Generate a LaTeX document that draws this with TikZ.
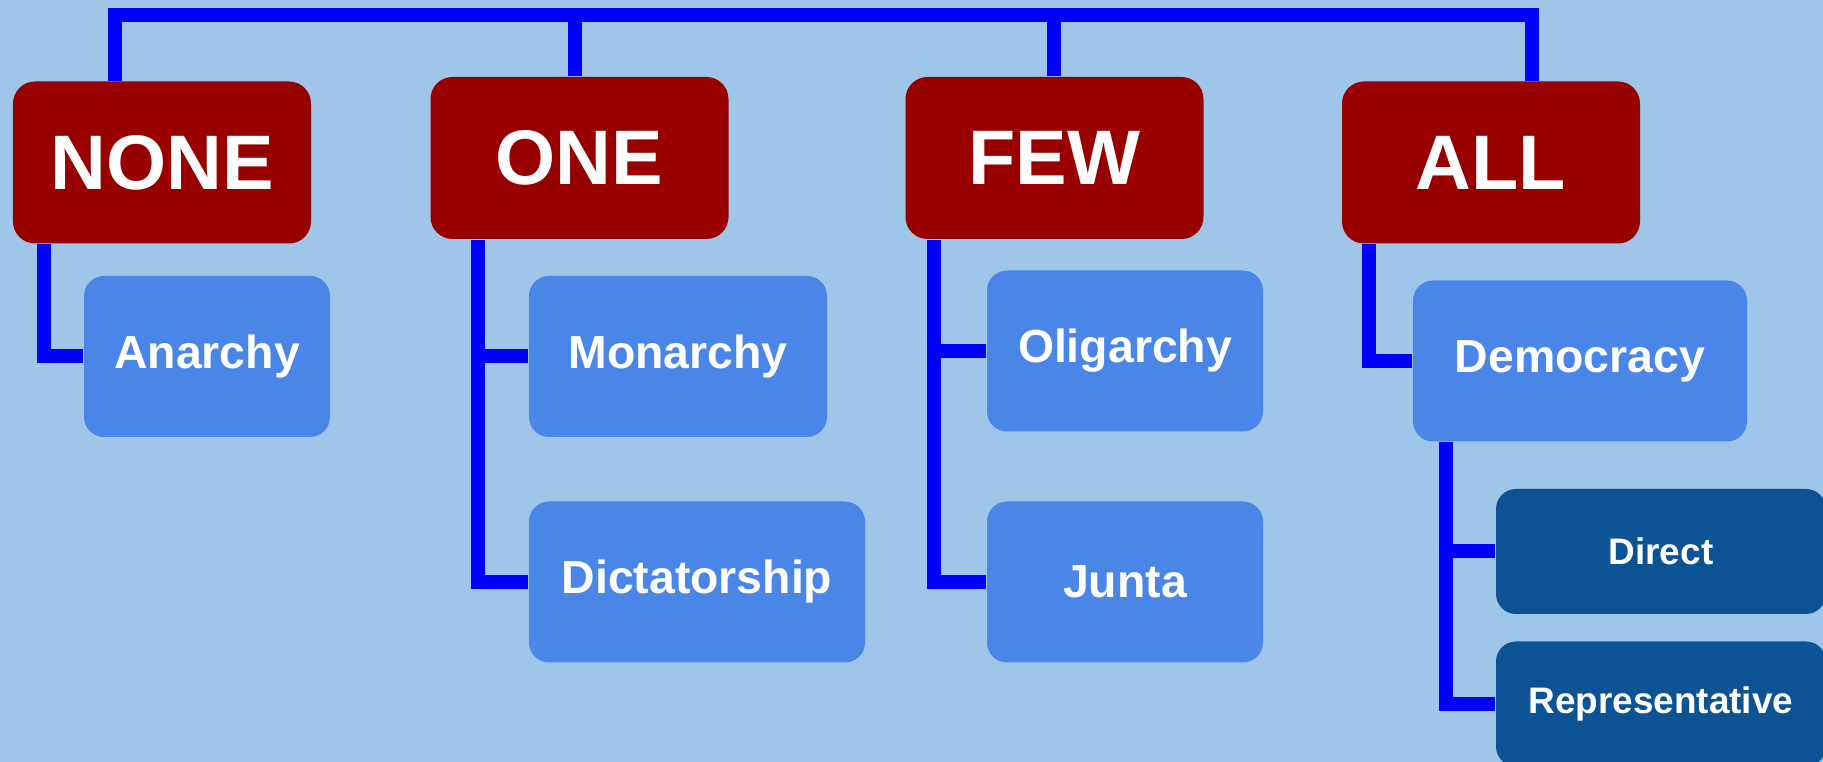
\documentclass[tikz,border=0pt]{standalone}
\usepackage{fontspec}
\setmainfont{Liberation Sans}
\definecolor{sky}{HTML}{9FC5E8}
\definecolor{berry}{HTML}{980000}
\definecolor{cornflower}{HTML}{4A86E8}
\definecolor{navy}{HTML}{0B5394}
\definecolor{wireblue}{HTML}{0000FF}
\begin{document}
\begin{tikzpicture}[
	chief/.style={fill=berry, rounded corners=0.22cm, minimum width=2.98cm, minimum height=1.62cm, inner sep=0pt, text=white, font=\fontsize{22}{26}\selectfont\bfseries},
	form/.style={fill=cornflower, rounded corners=0.2cm, minimum height=1.61cm, inner sep=0pt, text=white, font=\fontsize{13.2}{16}\selectfont\bfseries},
	variant/.style={fill=navy, rounded corners=0.2cm, minimum width=3.3cm, minimum height=1.25cm, inner sep=0pt, text=white, font=\fontsize{10.5}{13}\selectfont\bfseries},
	wire/.style={draw=wireblue, line width=0.14cm}]
	    \clip (0,0) rectangle (18.23,7.62);
	    \fill[sky] (0,0) rectangle (18.23,7.62);
	    \node[chief] (none) at (1.62,5.995) {NONE};
	    \node[chief] (one) at (5.795,6.04) {ONE};
	    \node[chief] (few) at (10.545,6.04) {FEW};
	    \node[chief] (all) at (14.91,5.995) {ALL};
	    \node[form, minimum width=2.46cm] (anarchy) at (2.07,4.055) {Anarchy};
	    \node[form, minimum width=2.98cm] (monarchy) at (6.78,4.055) {Monarchy};
	    \node[form, minimum width=3.36cm] (dictatorship) at (6.97,1.80) {Dictatorship};
	    \node[form, minimum width=2.76cm] (oligarchy) at (11.25,4.11) {Oligarchy};
	    \node[form, minimum width=2.76cm] (junta) at (11.25,1.80) {Junta};
	    \node[form, minimum width=3.34cm] (democracy) at (15.80,4.01) {Democracy};
	    \node[variant] (direct) at (16.61,2.105) {Direct};
	    \node[variant] (representative) at (16.61,0.58) {Representative};
	    \foreach \n/\x in {1/1.15,2/5.75,3/10.54,4/15.32} {\coordinate (drop\n) at (\x,7.47);}
	    \foreach \n/\x in {1/0.44,2/4.78,3/9.34,4/13.69,5/14.46} {\coordinate (spine\n) at (\x,0);}
	   	   \draw[wire] (drop1 |- none.north) -- (drop1) -- (drop4) -- (drop4 |- all.north);
	   	   \draw[wire] (drop2) -- (drop2 |- one.north);
	   	   \draw[wire] (drop3) -- (drop3 |- few.north);
	   	   \draw[wire] (spine1 |- none.south) |- (anarchy.west);
	   	   \draw[wire] (spine2 |- one.south) |- (dictatorship.west);
	   	   \draw[wire] (spine2 |- monarchy.west) -- (monarchy.west);
	   	   \draw[wire] (spine3 |- few.south) |- (junta.west);
	   	   \draw[wire] (spine3 |- oligarchy.west) -- (oligarchy.west);
	   	   \draw[wire] (spine4 |- all.south) |- (democracy.west);
	   	   \draw[wire] (spine5 |- democracy.south) |- (representative.west);
	   	   \draw[wire] (spine5 |- direct.west) -- (direct.west);
	\end{tikzpicture}
\end{document}
